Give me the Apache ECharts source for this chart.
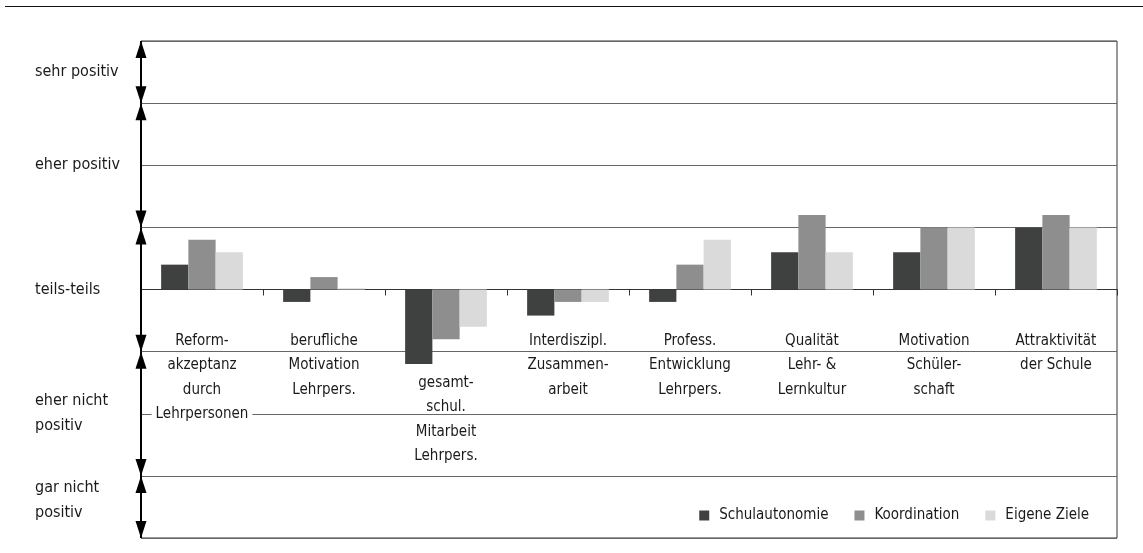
<!DOCTYPE html>
<html>
<head>
<meta charset="utf-8">
<script src="https://cdn.jsdelivr.net/npm/echarts@6/dist/echarts.min.js"></script>
<style>
  html, body { margin: 0; padding: 0; background: #fff; }
  #chart { width: 1143px; height: 553px; }
</style>
</head>
<body>
<div id="chart"></div>
<script>
// Kategorien (x-Achse)
const categories = [
  'Reform-\nakzeptanz\ndurch\nLehrpersonen',
  'berufliche\nMotivation\nLehrpers.',
  'gesamt-\nschul.\nMitarbeit\nLehrpers.',
  'Interdiszipl.\nZusammen-\narbeit',
  'Profess.\nEntwicklung\nLehrpers.',
  'Qualität\nLehr- &\nLernkultur',
  'Motivation\nSchüler-\nschaft',
  'Attraktivität\nder Schule'
]
// Werte relativ zu "teils-teils" (= 0)
const schulautonomie = [0.2, -0.1, -0.6, -0.21, -0.1, 0.3, 0.3, 0.5]
const koordination = [0.4, 0.1, -0.4, -0.1, 0.2, 0.6, 0.5, 0.6]
const eigeneZiele = [0.3, 0.01, -0.3, -0.1, 0.4, 0.3, 0.5, 0.5]

// Skala links
const levelNames = ['sehr positiv', 'eher positiv', 'teils-teils', 'eher nicht\npositiv', 'gar nicht\npositiv']
const levelPos = [1.75, 1.0, 0, -1.0, -1.7]
// Grenzen der Pfeil-Abschnitte
const bandEdges = [2, 1.5, 0.5, -0.5, -1.5, -2]

const FONT = "'Liberation Sans Narrow', 'DejaVu Sans Condensed', sans-serif"
const TXT = '#1a1a1a'

const chart = echarts.init(document.getElementById('chart'))

const arrowSegments = []
for (let i = 0; i < bandEdges.length - 1; i++) {
  arrowSegments.push([0, bandEdges[i], bandEdges[i + 1]])
}

// Doppelpfeil je Abschnitt
function renderArrow(params, api) {
  const a = api.coord([api.value(0), api.value(1)])
  const b = api.coord([api.value(0), api.value(2)])
  const w = 5.5
  const h = 17
  const dir = b[1] > a[1] ? 1 : -1
  return {
    type: 'group',
    children: [
      {
        type: 'line',
        shape: { x1: a[0], y1: a[1], x2: b[0], y2: b[1] },
        style: { stroke: '#000', lineWidth: 2 }
      },
      {
        type: 'polygon',
        shape: { points: [[a[0], a[1]], [a[0] - w, a[1] + dir * h], [a[0] + w, a[1] + dir * h]] },
        style: { fill: '#000' }
      },
      {
        type: 'polygon',
        shape: { points: [[b[0], b[1]], [b[0] - w, b[1] - dir * h], [b[0] + w, b[1] - dir * h]] },
        style: { fill: '#000' }
      }
    ]
  }
}

chart.setOption({
  animation: false,
  textStyle: { fontFamily: FONT },
  grid: {
    left: 141,
    right: 26,
    top: 41,
    bottom: 15,
    outerBoundsMode: 'none',
    containLabel: false,
    show: true,
    borderColor: '#333',
    borderWidth: 1
  },
  legend: {
    right: 49,
    top: 503,
    itemWidth: 10,
    itemHeight: 10,
    itemGap: 26,
    icon: 'rect',
    textStyle: { fontFamily: FONT, fontSize: 15, color: TXT, padding: [0, 0, 0, 5] },
    data: ['Schulautonomie', 'Koordination', 'Eigene Ziele']
  },
  graphic: [
    {
      type: 'line',
      shape: { x1: 5, y1: 6.5, x2: 1143, y2: 6.5 },
      style: { stroke: '#111', lineWidth: 1.2 }
    }
  ],
  xAxis: [
    {
      type: 'category',
      data: categories.map((c, i) => i === 2 ? { value: c, textStyle: { padding: [42, 0, 0, 0] } } : c),
      axisLine: { onZero: true, lineStyle: { color: '#333', width: 1 } },
      axisTick: { show: true, length: 6, lineStyle: { color: '#333' } },
      axisLabel: {
        interval: 0,
        margin: -209,
        fontFamily: FONT,
        fontSize: 15,
        lineHeight: 24.3,
        color: TXT,
        formatter: function (v) {
          return v.replace('Lehrpersonen', '{w|Lehrpersonen}')
        },
        rich: {
          w: {
            fontFamily: FONT,
            fontSize: 15,
            lineHeight: 24.3,
            color: TXT,
            backgroundColor: '#fff',
            padding: [0, 4]
          }
        }
      },
      splitLine: { show: false }
    },
    { type: 'value', min: 0, max: 1, show: false }
  ],
  yAxis: [
    {
      type: 'value',
      min: -2,
      max: 2,
      interval: 0.5,
      axisLine: { show: false },
      axisTick: { show: false },
      axisLabel: { show: false },
      splitLine: { lineStyle: { color: '#666', width: 1 } }
    },
    {
      type: 'value',
      position: 'left',
      min: -2,
      max: 2,
      interval: 0.05,
      axisLine: { show: false },
      axisTick: { show: false },
      splitLine: { show: false },
      axisLabel: {
        align: 'left',
        margin: 106,
        fontFamily: FONT,
        fontSize: 16,
        lineHeight: 25,
        color: TXT,
        formatter: function (v) {
          const k = levelPos.findIndex(p => Math.abs(p - v) < 0.01)
          return k >= 0 ? levelNames[k] : ''
        }
      }
    }
  ],
  series: [
    {
      name: 'Schulautonomie',
      type: 'bar',
      data: schulautonomie,
      barGap: '0%',
      barCategoryGap: '33%',
      itemStyle: { color: '#3f4140' }
    },
    {
      name: 'Koordination',
      type: 'bar',
      data: koordination,
      itemStyle: { color: '#8e8e8e' }
    },
    {
      name: 'Eigene Ziele',
      type: 'bar',
      data: eigeneZiele,
      itemStyle: { color: '#dadadb' }
    },
    {
      type: 'custom',
      xAxisIndex: 1,
      yAxisIndex: 0,
      silent: true,
      clip: false,
      encode: { x: 0, y: [1, 2] },
      renderItem: renderArrow,
      data: arrowSegments,
      z: 10
    }
  ]
})
</script>
</body>
</html>
